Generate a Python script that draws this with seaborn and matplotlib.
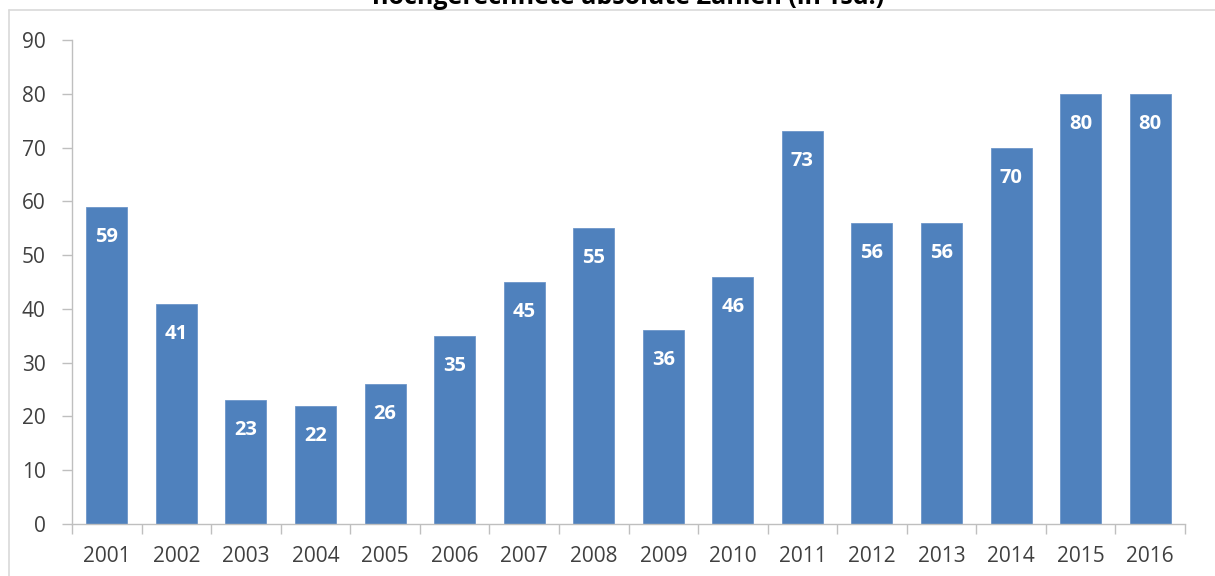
import matplotlib
matplotlib.use("Agg")
import matplotlib.pyplot as plt
import seaborn as sns
import pandas as pd
from matplotlib.lines import Line2D

years = ["2001", "2002", "2003", "2004", "2005", "2006", "2007", "2008",
         "2009", "2010", "2011", "2012", "2013", "2014", "2015", "2016"]
values = [59, 41, 23, 22, 26, 35, 45, 55, 36, 46, 73, 56, 56, 70, 80, 80]
title = "hochgerechnete absolute Zahlen (in Tsd.)"

sns.set_style("white")
plt.rcParams['font.family'] = ['Open Sans', 'DejaVu Sans']

W, H = 1215, 576
fig = plt.figure(figsize=(W / 100, H / 100), dpi=100)
ax = fig.add_axes([72 / W, 1 - 524 / H, (1185 - 72) / W, (524 - 40) / H])

df = pd.DataFrame({"year": years, "value": values})
sns.barplot(data=df, x="year", y="value", ax=ax, color="#4f81bd",
            saturation=1, width=0.59, edgecolor="#6d96c9", linewidth=0.6)

ax.set_ylim(0, 90)
ax.set_xlim(-0.5, len(years) - 0.5)
ax.set_yticks(range(0, 91, 10))
ax.set_xlabel("")
ax.set_ylabel("")

grey = "#bfbfbf"
for s in ["top", "right"]:
    ax.spines[s].set_visible(False)
for s in ["left", "bottom"]:
    ax.spines[s].set_color(grey)
    ax.spines[s].set_linewidth(1.0)

ax.set_xticks([i + 0.5 for i in range(-1, len(years))], minor=True)
ax.tick_params(axis="x", which="major", length=0, pad=16, labelsize=15, labelcolor="#404040")
ax.tick_params(axis="x", which="minor", length=7, width=1, color=grey, direction="out", bottom=True)
ax.tick_params(axis="y", length=7, width=1, color=grey, direction="out", left=True,
               pad=12, labelsize=15, labelcolor="#404040")

for i, v in enumerate(values):
    ax.annotate(str(v), xy=(i, v), xytext=(0, -30), textcoords="offset pixels",
                ha="center", va="center", color="white", fontsize=14.5, fontweight="bold")

fig.text(628 / W, 1 - 4 / H, title, ha="center", va="baseline",
         fontsize=18, fontweight="bold", color="#000000")

frame = "#d9d9d9"
fig.add_artist(Line2D([9 / W, 9 / W], [0, 1 - 10 / H], color=frame, lw=1.2, transform=fig.transFigure))
fig.add_artist(Line2D([9 / W, 1], [1 - 10 / H, 1 - 10 / H], color=frame, lw=1.2, transform=fig.transFigure))

fig.savefig("out.png", dpi=100)
